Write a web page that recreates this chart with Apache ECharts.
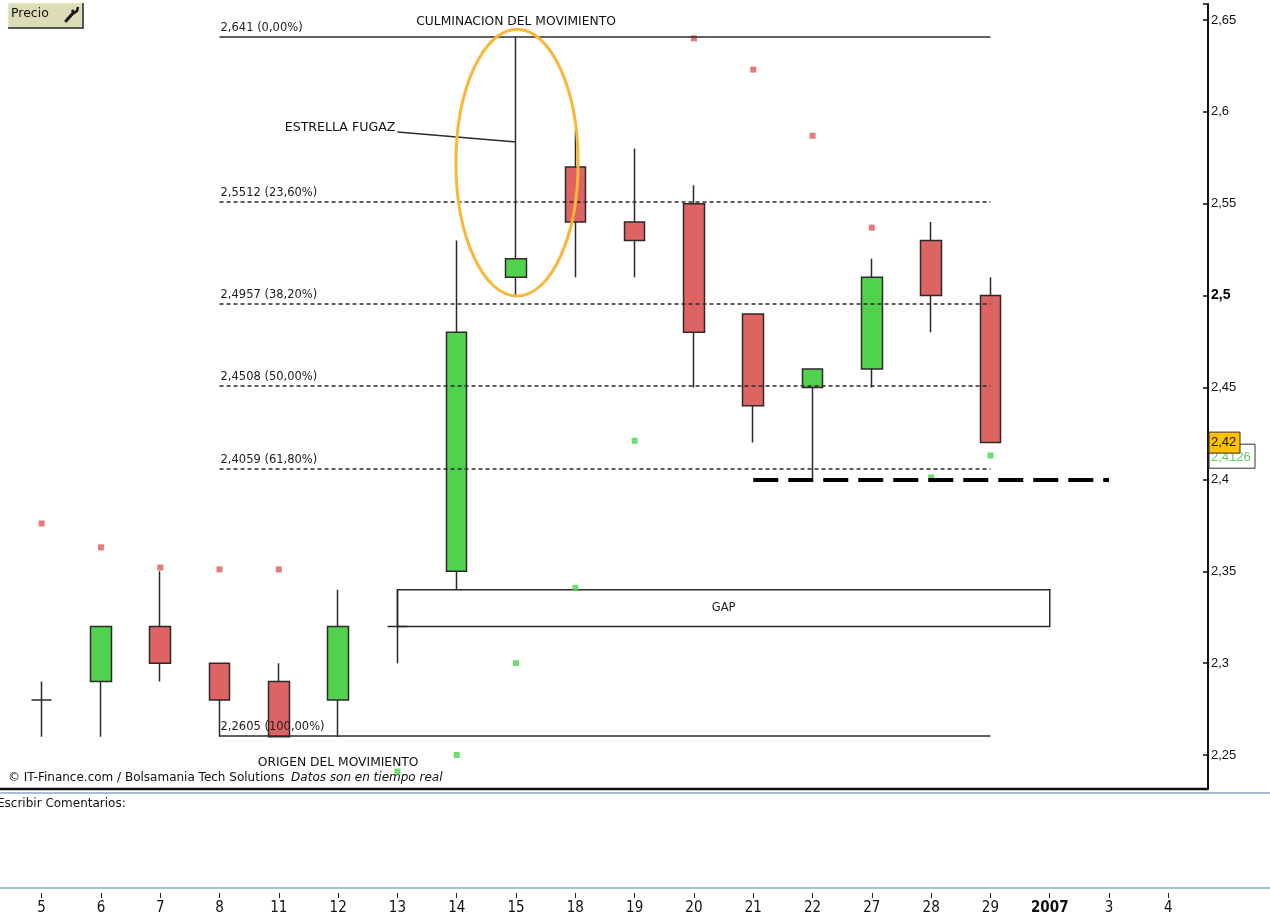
<!DOCTYPE html>
<html>
<head>
<meta http-equiv="content-type" content="text/html; charset=utf-8"/>
<title>Precio - Fibonacci</title>
<style type="text/css">body,html{width:100%;height:100%;margin:0;background:#fff}#main{width:1270px;height:916px}</style>
<script src="https://cdn.jsdelivr.net/npm/echarts@6/dist/echarts.min.js"></script>
</head>
<body>
<div id="main"></div>
<script>
// sesiones (dias) del eje inferior
var categories = ['5','6','7','8','11','12','13','14','15','18','19','20','21','22','27','28','29','2007','3','4'];
// velas: apertura, cierre, minimo, maximo
var openP  = [2.28, 2.29, 2.32, 2.30, 2.29, 2.28, 2.32, 2.35, 2.51, 2.57, 2.54, 2.55, 2.49, 2.45, 2.46, 2.53, 2.50, null, null, null];
var closeP = [2.28, 2.32, 2.30, 2.28, 2.26, 2.32, 2.32, 2.48, 2.52, 2.54, 2.53, 2.48, 2.44, 2.46, 2.51, 2.50, 2.42, null, null, null];
var lowP   = [2.26, 2.26, 2.29, 2.26, 2.26, 2.26, 2.30, 2.34, 2.50, 2.51, 2.51, 2.45, 2.42, 2.40, 2.45, 2.48, 2.42, null, null, null];
var highP  = [2.29, 2.32, 2.35, 2.30, 2.30, 2.34, 2.34, 2.53, 2.641, 2.59, 2.58, 2.56, 2.49, 2.46, 2.52, 2.54, 2.51, null, null, null];
// puntos rojos (por encima) y verdes (por debajo)
var redDots   = [2.376, 2.363, 2.352, 2.351, 2.351, null, null, null, null, null, null, 2.640, 2.623, 2.587, 2.537, null, null, null, null, null];
var greenDots = [null, null, null, null, null, null, 2.241, 2.250, 2.300, 2.341, 2.421, null, null, null, null, 2.401, 2.413, null, null, null];
// retrocesos de Fibonacci
var fibLevels = [2.641, 2.5512, 2.4957, 2.4508, 2.4059, 2.2605];
var fibPct    = ['0,00', '23,60', '38,20', '50,00', '61,80', '100,00'];
var gapRange  = [2.34, 2.32];
var supportLevel = 2.40;
var lastPrice = 2.42;
var sarPrice  = 2.4126;

var yMin = 2.2315, yMax = 2.6587;
var txtFont = 'DejaVu Sans';
var axFont = 'Liberation Sans, Arial';
var narrowFont = 'Liberation Sans Narrow, DejaVu Sans Condensed, sans-serif';

function dash(v){ return v == null ? '-' : v; }

var candleData = categories.map(function(c, i){
	if (openP[i] == null) return ['-', '-', '-', '-'];
	return [openP[i], closeP[i], lowP[i], highP[i]];
});

var fibLines = fibLevels.map(function(v, i){
	var solid = (i == 0 || i == fibLevels.length - 1);
	return [
		{coord: [3, v],
		 lineStyle: {color: '#2b2b2b', width: 1.5, type: solid ? 'solid' : [4, 3]},
		 label: {show: true, position: 'insideStartTop', distance: [1, 3], formatter: String(v).replace('.', ',') + ' (' + fibPct[i] + '%)',
				 color: '#222', fontSize: 11.5, fontFamily: txtFont}},
		{coord: [16, v]}
	];
});
fibLines.push([
	{coord: [12, supportLevel], lineStyle: {color: '#000', width: 4, type: [25, 10]}, label: {show: false}},
	{coord: [18, supportLevel]}
]);

var chart = echarts.init(document.getElementById('main'));

var option = {
	animation: false,
	backgroundColor: '#fff',
	grid: [
		{left: 12, right: 72, top: 4, bottom: 127, outerBoundsMode: 'none'},
		{left: 12, right: 72, top: 889, height: 4, outerBoundsMode: 'none'}
	],
	xAxis: [
		{type: 'category', gridIndex: 0, data: categories, boundaryGap: true,
		 axisLine: {show: false}, axisTick: {show: false}, axisLabel: {show: false}, splitLine: {show: false}},
		{type: 'category', gridIndex: 1, data: categories, boundaryGap: true, position: 'bottom',
		 axisLine: {show: false},
		 axisTick: {show: true, alignWithLabel: true, length: 5, lineStyle: {color: '#222', width: 1}},
		 axisLabel: {interval: 0, margin: 8, color: '#111', fontSize: 15, fontFamily: narrowFont,
					 formatter: function(v){ return v == '2007' ? '{b|2007}' : v; },
					 rich: {b: {fontWeight: 'bold', fontSize: 15, fontFamily: narrowFont, color: '#111'}}}}
	],
	yAxis: [
		{type: 'value', gridIndex: 0, position: 'right', offset: 10, min: yMin, max: yMax, splitNumber: 9,
		 axisLine: {show: true, onZero: false, lineStyle: {color: '#111', width: 2}},
		 axisTick: {show: true, inside: true, length: 5, lineStyle: {color: '#111', width: 1.5}},
		 splitLine: {show: false},
		 axisLabel: {margin: 3, color: '#111', fontSize: 13, fontFamily: axFont,
			 formatter: function(v){
				 if (Math.abs(v * 20 - Math.round(v * 20)) > 1e-6) return '';
				 var r = Math.round(v * 100) / 100;
				 var s = String(r).replace('.', ',');
				 return r == 2.5 ? '{b|' + s + '}' : s;
			 },
			 rich: {b: {fontWeight: 'bold', fontSize: 14, fontFamily: axFont, color: '#000'}}}},
		{type: 'value', gridIndex: 1, show: false}
	],
	series: [
		{
			type: 'candlestick', name: 'Precio', xAxisIndex: 0, yAxisIndex: 0,
			data: candleData, barWidth: 21,
			itemStyle: {color: '#50d24e', color0: '#de6363', borderColor: '#2a2a2a', borderColor0: '#2a2a2a', borderColorDoji: '#2a2a2a', borderWidth: 1.5},
			emphasis: {disabled: true},
			markLine: {silent: true, symbol: ['none', 'none'], animation: false, data: fibLines},
			markArea: {silent: true, animation: false, data: [[
				{coord: [6, gapRange[0]], itemStyle: {color: 'rgba(255,255,255,0)', borderColor: '#2b2b2b', borderWidth: 1.5},
				 label: {show: true, position: 'inside', formatter: 'GAP', color: '#222', fontSize: 11.5, fontFamily: txtFont}},
				{coord: [17, gapRange[1]]}
			]]}
		},
		{type: 'scatter', xAxisIndex: 0, yAxisIndex: 0, symbol: 'rect', symbolSize: 6, silent: true,
		 itemStyle: {color: '#e05a5a'}, data: redDots.map(dash)},
		{type: 'scatter', xAxisIndex: 0, yAxisIndex: 0, symbol: 'rect', symbolSize: 6, silent: true,
		 itemStyle: {color: '#4cd24c'}, data: greenDots.map(dash)}
	]
};
chart.setOption(option);

function px(i, v){ return chart.convertToPixel({gridIndex: 0}, [i, v]); }

// anotaciones colocadas sobre las coordenadas de los datos
var axisX = 1208;
var bottomY = px(0, yMin)[1];
var culm = px(8, fibLevels[0]);
var orig = px(5, fibLevels[fibLevels.length - 1]);
var starA = px(6, 2.589), starB = px(8, 2.5836);
var ellTop = px(8, 2.6449), ellBot = px(8, 2.4998);
var bandW = px(9, 2.5)[0] - px(8, 2.5)[0];
var tagY = px(16, lastPrice)[1], sarY = px(16, sarPrice)[1];

chart.setOption({graphic: [
	// marco inferior y paneles
	{type: 'line', silent: true, shape: {x1: 0, y1: bottomY, x2: axisX, y2: bottomY}, style: {stroke: '#111', lineWidth: 2.5}},
	{type: 'line', silent: true, shape: {x1: 0, y1: bottomY + 4, x2: 1270, y2: bottomY + 4}, style: {stroke: '#a9bed6', lineWidth: 2}},
	{type: 'line', silent: true, shape: {x1: 0, y1: 888, x2: 1270, y2: 888}, style: {stroke: '#a9bed6', lineWidth: 2}},
	{type: 'text', silent: true, left: -3, top: 798, style: {text: 'Escribir Comentarios:', fontSize: 12, fontFamily: txtFont, fill: '#111'}},
	{type: 'text', silent: true, left: 8, top: 772, style: {
		text: '{a|© IT-Finance.com / Bolsamania Tech Solutions}  {b|Datos son en tiempo real}',
		rich: {a: {fontSize: 12, fontFamily: txtFont, fill: '#111'},
			   b: {fontSize: 12, fontStyle: 'italic', fontFamily: txtFont, fill: '#111'}}}},
	// boton Precio
	{type: 'rect', silent: true, shape: {x: 8, y: 3, width: 75, height: 25}, style: {fill: '#dcdcb6', stroke: '#f4f4e4', lineWidth: 1}},
	{type: 'polyline', silent: true, shape: {points: [[83, 3], [83, 28], [8, 28]]}, style: {stroke: '#555', lineWidth: 2, fill: null}},
	{type: 'text', silent: true, left: 11, top: 7, style: {text: 'Precio', fontSize: 12.5, fontFamily: txtFont, fill: '#111'}},
	{type: 'line', silent: true, shape: {x1: 66, y1: 21, x2: 74, y2: 12}, style: {stroke: '#111', lineWidth: 3, lineCap: 'round'}},
	{type: 'polyline', silent: true, shape: {points: [[72, 10], [74, 13], [77, 11], [78, 7]]}, style: {stroke: '#111', lineWidth: 2.5, fill: null}},
	// textos de la figura
	{type: 'text', silent: true, x: culm[0], y: culm[1] - 15, style: {text: 'CULMINACION DEL MOVIMIENTO', fontSize: 12.3, fontFamily: txtFont, fill: '#111', align: 'center', verticalAlign: 'middle'}},
	{type: 'text', silent: true, x: orig[0], y: orig[1] + 27, style: {text: 'ORIGEN DEL MOVIMIENTO', fontSize: 12.3, fontFamily: txtFont, fill: '#111', align: 'center', verticalAlign: 'middle'}},
	{type: 'line', silent: true, shape: {x1: starA[0], y1: starA[1], x2: starB[0], y2: starB[1]}, style: {stroke: '#2b2b2b', lineWidth: 1.5}},
	{type: 'text', silent: true, x: starA[0] - 2, y: starA[1] - 4, style: {text: 'ESTRELLA FUGAZ', fontSize: 12.6, fontFamily: txtFont, fill: '#111', align: 'right', verticalAlign: 'middle'}},
	{type: 'ellipse', silent: true, z: 100, shape: {cx: ellTop[0] + 1, cy: (ellTop[1] + ellBot[1]) / 2, rx: bandW * 1.03, ry: (ellBot[1] - ellTop[1]) / 2},
	 style: {fill: null, stroke: '#fbb537', lineWidth: 3}},
	// etiquetas de precio en el eje
	{type: 'rect', silent: true, z: 100, shape: {x: axisX + 1, y: sarY - 12, width: 46, height: 24}, style: {fill: '#fff', stroke: '#333', lineWidth: 1}},
	{type: 'text', silent: true, z: 101, x: axisX + 3, y: sarY + 1, style: {text: String(sarPrice).replace('.', ','), fontSize: 13, fontFamily: axFont, fill: '#5ad35a', verticalAlign: 'middle'}},
	{type: 'rect', silent: true, z: 102, shape: {x: axisX + 1, y: tagY - 10.5, width: 31, height: 21}, style: {fill: '#ffc000', stroke: '#333', lineWidth: 1}},
	{type: 'text', silent: true, z: 103, x: axisX + 3, y: tagY, style: {text: String(lastPrice).replace('.', ','), fontSize: 13, fontFamily: axFont, fill: '#111', verticalAlign: 'middle'}}
]});
</script>
</body>
</html>
